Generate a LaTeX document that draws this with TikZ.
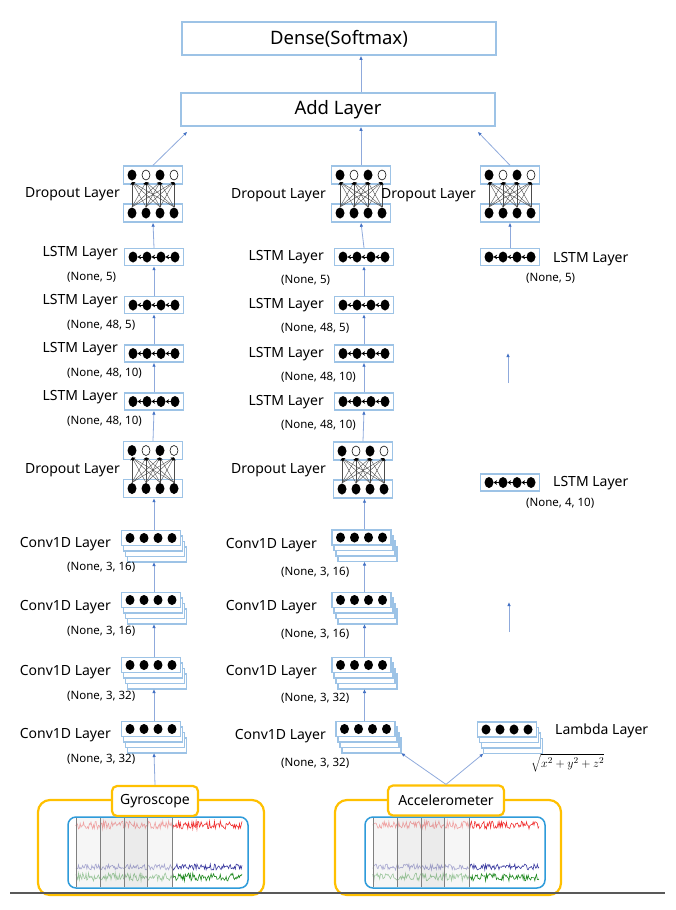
\documentclass[tikz,border=0pt]{standalone}
\usepackage[no-math]{fontspec}
\setmainfont{Noto Sans}
\usetikzlibrary{arrows.meta,calc}
\definecolor{boxblue}{HTML}{9DC3E6}
\definecolor{lineblue}{HTML}{8FAADC}
\definecolor{arrowblue}{HTML}{4472C4}
\definecolor{sensoryellow}{HTML}{FFC000}
\definecolor{signalbox}{HTML}{2E9BDA}
\definecolor{sigred}{HTML}{F03030}
\definecolor{sigblue}{HTML}{3A3AA0}
\definecolor{siggreen}{HTML}{228B22}
\begin{document}
\begin{tikzpicture}[x=1pt, y=-1pt,
  lbl/.style={font=\fontsize{14}{16}\selectfont, inner sep=0pt},
  sub/.style={font=\fontsize{11.5}{13}\selectfont, inner sep=0pt},
  widebox/.style={draw=boxblue, line width=1.5pt, fill=white, minimum width=314pt, minimum height=33pt, inner sep=0pt, font=\fontsize{18.5}{20}\selectfont},
  layerbox/.style={draw=boxblue, line width=1.4pt, fill=white, minimum width=59pt, minimum height=17pt, inner sep=0pt},
  stackline/.style={draw=boxblue, line width=1.2pt, fill=white},
  sensor/.style={draw=sensoryellow, line width=2.2pt, fill=white, rounded corners=5pt, minimum height=30pt, inner sep=0pt, font=\fontsize{14}{16}\selectfont},
  flow/.style={draw=lineblue, line width=0.8pt, -{Latex[length=4pt, width=3.5pt, color=arrowblue]}},
  wire/.style={draw=black!70, line width=0.4pt, -{Stealth[length=3pt, width=3pt, color=black]}},
  pics/lstmlayer/.style={code={
    \node[layerbox] (-box) {};
    \foreach \i in {-21,-7,7,21} \fill ({\i},0) ellipse [x radius=4.5, y radius=5.5];
    \foreach \i in {-7,7,21} \draw[line width=0.6pt, -{Stealth[length=3.5pt, width=4.5pt]}] ({\i-4},0) -- ({\i-9.5},0);
  }},
  pics/droplayer/.style={code={
    \node[layerbox, minimum height=18pt] (-top) at (0,-19) {};
    \node[layerbox, minimum height=18pt] (-bot) at (0,19) {};
    \foreach \a in {-21,-7,7,21} \foreach \b in {-21,-7,7,21} \draw[wire] ({\a},13) -- ({\b},-12);
    \foreach \i in {-21,-7,7,21} \fill ({\i},19) ellipse [x radius=4.5, y radius=5.5];
    \foreach \i in {-21,7} \fill ({\i},-19) ellipse [x radius=4.5, y radius=5.5];
    \foreach \i in {-7,21} \draw[line width=0.6pt, fill=white] ({\i},-19) ellipse [x radius=4, y radius=5];
  }},
  pics/convlayer/.style={code={
    \foreach \k in {3,2,1} \draw[stackline] ({-29.5+2*\k},{-7.5+5.5*\k}) rectangle ++(59,15);
    \node[layerbox, minimum height=15pt] (-box) {};
    \foreach \i in {-21,-7,7,21} \fill ({\i},0) ellipse [x radius=4.5, y radius=5];
    \coordinate (-base) at (3,24);
    \coordinate (-sw) at (-23.5,24);
    \coordinate (-se) at (35.5,24);
  }}]
\useasboundingbox (0,0) rectangle (675,910);

\node[widebox] (dense) at (339,38.5) {Dense(Softmax)};
\node[widebox] (add) at (338,109.5) {Add Layer};

\pic (gd1) at (153,194) {droplayer};
\pic (gl1) at (154,257) {lstmlayer};
\pic (gl2) at (154,305) {lstmlayer};
\pic (gl3) at (154,353.5) {lstmlayer};
\pic (gl4) at (154,401.5) {lstmlayer};
\pic (gd2) at (153,469.5) {droplayer};
\pic (gc1) at (151,538) {convlayer};
\pic (gc2) at (151,600) {convlayer};
\pic (gc3) at (151,665) {convlayer};
\pic (gc4) at (151,729) {convlayer};

\pic (ad1) at (361,194) {droplayer};
\pic (al1) at (364,257) {lstmlayer};
\pic (al2) at (364,305) {lstmlayer};
\pic (al3) at (364,353.5) {lstmlayer};
\pic (al4) at (364,401.5) {lstmlayer};
\pic (ad2) at (363,470) {droplayer};
\pic (ac1) at (361.5,537.5) {convlayer};
\pic (ac2) at (361.5,600) {convlayer};
\pic (ac3) at (361.5,665) {convlayer};
\pic (ac4) at (365.5,729) {convlayer};

\pic (md1) at (510,194) {droplayer};
\pic (ml1) at (510,257) {lstmlayer};
\pic (ml2) at (510,482.5) {lstmlayer};
\pic (mlam) at (507,729.5) {convlayer};

\node[lbl, anchor=east] (gd1t) at (120,194) {Dropout Layer};
\node[lbl, anchor=east] (gl1t) at (118,253) {LSTM Layer};
\node[sub, anchor=west] (gl1s) at (67,277) {(None, 5)};
\node[lbl, anchor=east] (gl2t) at (118,301) {LSTM Layer};
\node[sub, anchor=west] (gl2s) at (67,325) {(None, 48, 5)};
\node[lbl, anchor=east] (gl3t) at (118,349) {LSTM Layer};
\node[sub, anchor=west] (gl3s) at (67,373) {(None, 48, 10)};
\node[lbl, anchor=east] (gl4t) at (118,397) {LSTM Layer};
\node[sub, anchor=west] (gl4s) at (67,421) {(None, 48, 10)};
\node[lbl, anchor=east] (gd2t) at (120,470) {Dropout Layer};
\node[lbl, anchor=east] (gc1t) at (111,544) {Conv1D Layer};
\node[sub, anchor=west] (gc1s) at (67,567) {(None, 3, 16)};
\node[lbl, anchor=east] (gc2t) at (111,607) {Conv1D Layer};
\node[sub, anchor=west] (gc2s) at (67,631) {(None, 3, 16)};
\node[lbl, anchor=east] (gc3t) at (111,672) {Conv1D Layer};
\node[sub, anchor=west] (gc3s) at (67,696) {(None, 3, 32)};
\node[lbl, anchor=east] (gc4t) at (111,735) {Conv1D Layer};
\node[sub, anchor=west] (gc4s) at (67,759) {(None, 3, 32)};

\node[lbl, anchor=east] (ad1t) at (326,195) {Dropout Layer};
\node[lbl, anchor=east] (al1t) at (324,257) {LSTM Layer};
\node[sub, anchor=west] (al1s) at (281,280) {(None, 5)};
\node[lbl, anchor=east] (al2t) at (324,305) {LSTM Layer};
\node[sub, anchor=west] (al2s) at (281,328) {(None, 48, 5)};
\node[lbl, anchor=east] (al3t) at (324,354) {LSTM Layer};
\node[sub, anchor=west] (al3s) at (281,377) {(None, 48, 10)};
\node[lbl, anchor=east] (al4t) at (324,402) {LSTM Layer};
\node[sub, anchor=west] (al4s) at (281,425) {(None, 48, 10)};
\node[lbl, anchor=east] (ad2t) at (326,470) {Dropout Layer};
\node[lbl, anchor=east] (ac1t) at (317,545) {Conv1D Layer};
\node[sub, anchor=west] (ac1s) at (281,572) {(None, 3, 16)};
\node[lbl, anchor=east] (ac2t) at (317,607) {Conv1D Layer};
\node[sub, anchor=west] (ac2s) at (281,634) {(None, 3, 16)};
\node[lbl, anchor=east] (ac3t) at (317,672) {Conv1D Layer};
\node[sub, anchor=west] (ac3s) at (281,698) {(None, 3, 32)};
\node[lbl, anchor=east] (ac4t) at (326,736) {Conv1D Layer};
\node[sub, anchor=west] (ac4s) at (281,763) {(None, 3, 32)};

\node[lbl, anchor=west] (md1t) at (381,195) {Dropout Layer};
\node[lbl, anchor=west] (ml1t) at (553,259) {LSTM Layer};
\node[sub, anchor=west] (ml1s) at (526,278) {(None, 5)};
\node[lbl, anchor=west] (ml2t) at (553,483) {LSTM Layer};
\node[sub, anchor=west] (ml2s) at (526,503) {(None, 4, 10)};
\node[lbl, anchor=west] (mlamt) at (555,731) {Lambda Layer};
\node[inner sep=0pt, anchor=west, font=\fontsize{13}{15}\selectfont] (mlams) at (531,763) {$\sqrt{x^2+y^2+z^2}$};

\foreach \dx/\seed in {0/7, 297/11}{
  \begin{scope}[xshift=\dx pt]
    \draw[sensoryellow, line width=2.2pt, rounded corners=12pt, fill=white] (38,800) rectangle (264,895);
    \pgfmathsetseed{\seed}
    \draw[sigred, line width=0.6pt] plot[domain=76:242, samples=200] (\x,{825+4*rand});
    \draw[sigblue, line width=0.6pt] plot[domain=76:242, samples=200] (\x,{867+3*rand});
    \draw[siggreen, line width=0.6pt] plot[domain=76:242, samples=200] (\x,{877+4*rand});
    \fill[black!6, opacity=0.6] (76,818) rectangle (100,887);
    \fill[black!10, opacity=0.6] (100,818) rectangle (124,887);
    \fill[black!13, opacity=0.6] (124,818) rectangle (147,887);
    \fill[black!6, opacity=0.6] (147,818) rectangle (172,887);
    \foreach \bx in {76,100,124,147,172} \draw[black!50, line width=0.6pt] (\bx,818) -- (\bx,887);
    \draw[signalbox, line width=1.5pt, rounded corners=8pt] (68,817) rectangle (248,888);
  \end{scope}
}
\node[sensor, minimum width=86pt] (gyro) at (155,801) {Gyroscope};
\node[sensor, minimum width=116pt] (acc) at (446,800.5) {Accelerometer};
\draw[black!65, line width=2pt] (10,893) -- (665,893);

\draw[flow] (add.north -| ad1-top.north) -- (dense.south -| ad1-top.north);
\draw[flow] (gd1-top.north) -- ($(add.south west)+(7,5)$);
\draw[flow] (ad1-top.north) -- (add.south -| ad1-top.north);
\draw[flow] (md1-top.north) -- ($(add.south east)+(-18,5)$);

\draw[flow] (gyro.north) -- (gc4-base);
\draw[flow] (gc4-base |- gc4-box.north) -- (gc3-base);
\draw[flow] (gc3-base |- gc3-box.north) -- (gc2-base);
\draw[flow] (gc2-base |- gc2-box.north) -- (gc1-base);
\draw[flow] (gc1-base |- gc1-box.north) -- (gc1-base |- gd2-bot.south);
\draw[flow] (gd2-top.north) -- (gl4-box.south);
\draw[flow] (gl4-box.north) -- (gl3-box.south);
\draw[flow] (gl3-box.north) -- (gl2-box.south);
\draw[flow] (gl2-box.north) -- (gl1-box.south);
\draw[flow] (gl1-box.north) -- (gd1-bot.south);

\draw[flow] (acc.north) -- (ac4-se);
\draw[flow] (acc.north) -- (mlam-sw);
\draw[flow] (ac3-base |- ac4-box.north) -- (ac3-base);
\draw[flow] (ac3-base |- ac3-box.north) -- (ac2-base);
\draw[flow] (ac2-base |- ac2-box.north) -- (ac1-base);
\draw[flow] (ac1-base |- ac1-box.north) -- (ac1-base |- ad2-bot.south);
\draw[flow] (ad2-top.north) -- (al4-box.south);
\draw[flow] (al4-box.north) -- (al3-box.south);
\draw[flow] (al3-box.north) -- (al2-box.south);
\draw[flow] (al2-box.north) -- (al1-box.south);
\draw[flow] (al1-box.north) -- (ad1-bot.south);

\draw[flow] (ml1-box.north) -- (md1-bot.south);
\coordinate (mfa) at (508,383);
\coordinate (mfb) at (508,353);
\coordinate (mfc) at (509,632);
\coordinate (mfd) at (509,602);
\draw[flow] (mfa) -- (mfb);
\draw[flow] (mfc) -- (mfd);
\end{tikzpicture}
\end{document}
